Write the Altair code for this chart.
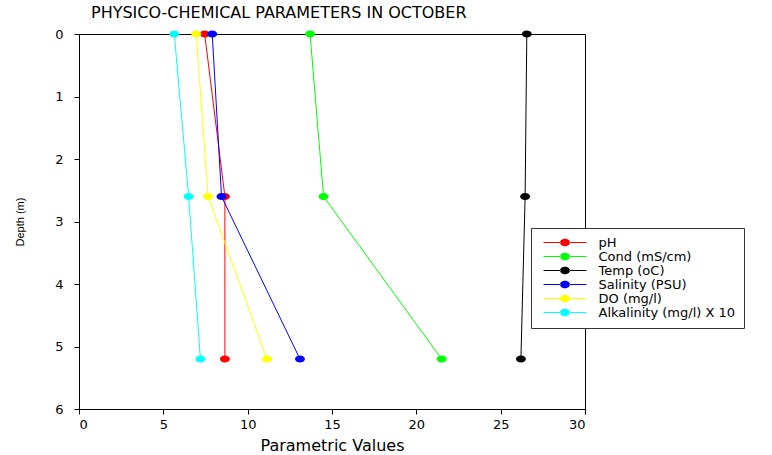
import altair as alt
import pandas as pd

depth = [0, 2.6, 5.2]
series = ["pH", "Cond (mS/cm)", "Temp (oC)", "Salinity (PSU)", "DO (mg/l)", "Alkalinity (mg/l) X 10"]
colors = ["#ff0000", "#00ff00", "#000000", "#0000ff", "#ffff00", "#00ffff"]
ph = [7.45, 8.65, 8.65]
cond = [13.7, 14.5, 21.5]
temp = [26.55, 26.45, 26.2]
sal = [7.9, 8.45, 13.1]
do = [6.95, 7.65, 11.15]
alk = [5.65, 6.5, 7.2]

vals = [ph, cond, temp, sal, do, alk]
rows = []
for i, (name, v) in enumerate(zip(series, vals)):
    for d, x in zip(depth, v):
        rows.append({"series": name, "order": i, "depth": d, "value": x})
df = pd.DataFrame(rows)

ellipse = "M-1,0A1,0.7,0,1,0,1,0A1,0.7,0,1,0,-1,0Z"
leg_sym = ("M-4.3,-0.1L-0.9,-0.1L-0.9,0.1L-4.3,0.1Z"
           "M0.9,-0.1L4.3,-0.1L4.3,0.1L0.9,0.1Z"
           "M-1,0A1,0.75,0,1,0,1,0A1,0.75,0,1,0,-1,0Z")

FONT = "DejaVu Sans"
PAD = "\u00a0" * 8

legend = alt.Legend(
    title=None,
    orient="none",
    legendX=452,
    legendY=194,
    fillColor="white",
    strokeColor="#333333",
    padding=8,
    symbolType=leg_sym,
    symbolSize=100,
    symbolStrokeWidth=0,
    symbolOffset=19.5,
    labelOffset=27,
    labelFont=FONT,
    labelFontSize=13,
    labelColor="black",
    rowPadding=-1.6,
    labelLimit=400,
    labelExpr="datum.label + '" + PAD + "'",
)

x = alt.X("value:Q", scale=alt.Scale(domain=[0, 30], nice=False, zero=False),
          axis=alt.Axis(title="Parametric Values", values=[0, 5, 10, 15, 20, 25, 30],
                        grid=False, tickColor="black", domainColor="black",
                        labelFont=FONT, labelFontSize=13, labelColor="black",
                        titleFont=FONT, titleFontSize=16, titleFontWeight="normal",
                        titleColor="black", tickSize=5, labelPadding=4, titlePadding=6))
y = alt.Y("depth:Q", scale=alt.Scale(domain=[0, 6], reverse=True, nice=False),
          axis=alt.Axis(title="Depth (m)", values=[0, 1, 2, 3, 4, 5, 6],
                        grid=False, tickColor="black", domainColor="black",
                        labelFont=FONT, labelFontSize=13, labelColor="black",
                        titleFont="Liberation Sans", titleFontSize=11,
                        titleFontWeight="normal", titleColor="black",
                        tickSize=5, labelPadding=11, titlePadding=29))
scale = alt.Scale(domain=series, range=colors)

lines = alt.Chart(df).mark_line(strokeWidth=1).encode(
    x=x, y=y, stroke=alt.Stroke("series:N", scale=scale, legend=legend),
    detail="series:N", order="depth:Q"
)
points = alt.Chart(df).mark_point(shape=ellipse, size=100, filled=True, opacity=1).encode(
    x=x, y=y, color=alt.Color("series:N", scale=scale, legend=legend), order="order:Q"
)

chart = alt.layer(lines, points).properties(
    width=506, height=375,
    background="white",
    autosize=alt.AutoSizeParams(type="none"),
    padding={"left": 79, "top": 34, "right": 187, "bottom": 46},
    title=alt.Title("PHYSICO-CHEMICAL PARAMETERS IN OCTOBER", anchor="start", frame="group",
                    dx=12, dy=14, font=FONT, fontSize=16, fontWeight="normal", color="black",
                    baseline="alphabetic", offset=8),
).configure_view(stroke="black", strokeWidth=1)

chart.save("out.html", embed_options={"renderer": "svg", "actions": False})
